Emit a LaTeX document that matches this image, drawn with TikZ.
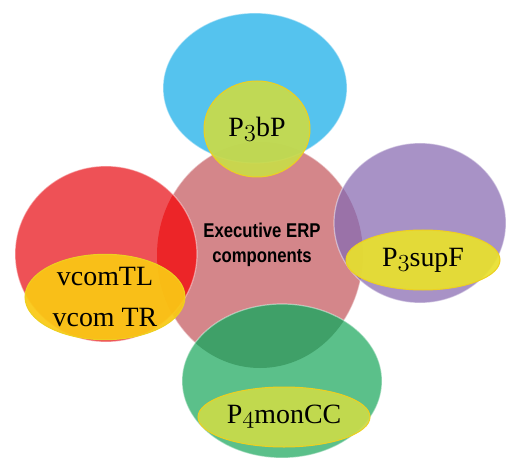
\documentclass[tikz,border=0pt]{standalone}
\usepackage{fontspec}
\usetikzlibrary{shapes.geometric}
\newfontfamily\erpsans{Liberation Sans}[FakeStretch=0.84]
\newfontfamily\erpserif{Liberation Serif}
\newcommand\osnum[1]{{\usefont{OML}{lmm}{m}{it}#1}}

\definecolor{pinkc}{HTML}{D4868A}
\definecolor{bluec}{HTML}{55C3EE}
\definecolor{bluedeep}{HTML}{3FA3D0}
\definecolor{redc}{HTML}{EE5156}
\definecolor{reddeep}{HTML}{EC2528}
\definecolor{purplec}{HTML}{A892C6}
\definecolor{purpledeep}{HTML}{9A72A8}
\definecolor{greenc}{HTML}{5BC08A}
\definecolor{greendeep}{HTML}{3FA068}
\definecolor{limec}{HTML}{C9DB4A}
\definecolor{orangec}{HTML}{FAC814}
\definecolor{yellowc}{HTML}{E8E02E}
\definecolor{rimc}{HTML}{EDD020}

\begin{document}
\begin{tikzpicture}[
    x=1bp, y=-1bp,
    rim/.style={draw=white, draw opacity=0.45, line width=1.2bp},
    tag/.style={ellipse, inner sep=0pt, draw=rimc, line width=1bp, fill opacity=0.93, text opacity=1, font=\erpserif\fontsize{28}{42}\selectfont, align=center},
    hub/.style={font=\erpsans\bfseries\fontsize{20}{25}\selectfont, align=center, inner sep=0pt}
]
\useasboundingbox (0,0) rectangle (506,458);

% centre disc
\fill[pinkc] (260,255) ellipse [x radius=103, y radius=113];
\draw[rim] (260,255) ellipse [x radius=103, y radius=113];

% outer discs, darker where they lie on the centre disc
\foreach \cx/\cy/\rx/\ry/\base/\deep in {255/88/92/75/bluec/bluedeep, 106/254/91/88/redc/reddeep, 420/223/86/80/purplec/purpledeep, 282/381/100/77/greenc/greendeep}{
    \fill[\base] (\cx,\cy) ellipse [x radius=\rx, y radius=\ry];
    \begin{scope}
        \clip (260,255) ellipse [x radius=103, y radius=113];
        \fill[\deep] (\cx,\cy) ellipse [x radius=\rx, y radius=\ry];
    \end{scope}
    \draw[rim] (\cx,\cy) ellipse [x radius=\rx, y radius=\ry];
}

\node[hub] (erp) at (262,245) {Executive ERP\\components};

\node[tag, fill=limec, minimum width=106bp, minimum height=96bp] (p3bp) at (257,129) {P\osnum{3}bP};
\node[tag, fill=orangec, minimum width=160bp, minimum height=80bp] (vcom) at (105,297) {vcomTL\\vcom TR};
\node[tag, fill=yellowc, minimum width=154bp, minimum height=60bp] (p3supf) at (423,260) {P\osnum{3}supF};
\node[tag, fill=limec, minimum width=172bp, minimum height=60bp] (p4moncc) at (284,417) {P\osnum{4}monCC};

\end{tikzpicture}
\end{document}
